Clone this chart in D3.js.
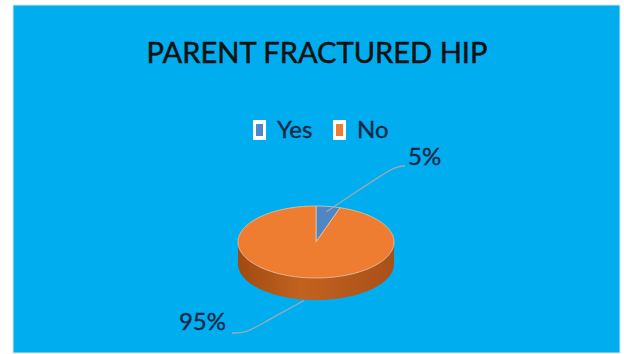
<!DOCTYPE html>
<html>
<head>
<meta charset="utf-8">
<script src="https://cdn.jsdelivr.net/npm/d3@7"></script>
<style>
  body { margin: 0; background: #fff; }
  svg { display: block; }
</style>
</head>
<body>
<svg id="chart"></svg>
<script>
const categories = ["Yes", "No"]
const values = [5, 95]
const labels = ["5%", "95%"]
const title = "PARENT FRACTURED HIP"

const width = 624, height = 354
const font = "Lato, 'Open Sans', sans-serif"

const topColor = d3.scaleOrdinal().domain(categories).range(["#4f86c6", "#ee7d32"])
const sideColor = d3.scaleOrdinal().domain(categories).range(["#3a679c", "#b95b1d"])

const svg = d3.select("#chart")
  .attr("width", width)
  .attr("height", height)

// frame
svg.append("rect")
  .attr("x", 13).attr("y", 5)
  .attr("width", 607).attr("height", 348)
  .attr("fill", "#00aeef")
  .attr("stroke", "#d8e8ee")
  .attr("stroke-width", 1)

svg.append("text")
  .attr("x", 317).attr("y", 63)
  .attr("text-anchor", "middle")
  .attr("font-family", font)
  .attr("font-size", 28)
  .attr("textLength", 341)
  .attr("lengthAdjust", "spacingAndGlyphs")
  .attr("fill", "#111")
  .attr("stroke", "#111")
  .attr("stroke-width", 0.5)
  .text(title)

// legend
const legendX = d3.scaleOrdinal().domain(categories).range([253, 333])
const legend = svg.append("g").selectAll("g")
  .data(categories)
  .enter().append("g")
  .attr("transform", d => `translate(${legendX(d)},120)`)

legend.append("rect")
  .attr("width", 13).attr("height", 20)
  .attr("fill", "#fff")
legend.append("rect")
  .attr("x", 3).attr("y", 4)
  .attr("width", 7).attr("height", 12)
  .attr("fill", d => topColor(d))
legend.append("text")
  .attr("x", 24).attr("y", 18)
  .attr("font-family", font)
  .attr("font-size", 24)
  .attr("fill", "#10294a")
  .attr("stroke", "#10294a")
  .attr("stroke-width", 0.4)
  .text(d => d)

// 3d pie
const cx = 316, cy = 242, rx = 78, ry = 36, depth = 22

const pie = d3.pie().sort(null).value(d => d.value)
const arcs = pie(categories.map((c, i) => ({ name: c, value: values[i], label: labels[i] })))

const px = (a, k = 1) => cx + rx * k * Math.sin(a)
const py = (a, k = 1) => cy - ry * k * Math.cos(a)

function arcPoints(a0, a1, dy) {
  const n = Math.max(2, Math.ceil((a1 - a0) / 0.02))
  return d3.range(n + 1).map(i => {
    const a = a0 + (a1 - a0) * i / n
    return [px(a), py(a) + dy]
  })
}

function topPath(d) {
  const pts = arcPoints(d.startAngle, d.endAngle, 0)
  return "M" + cx + "," + cy + "L" + pts.map(p => p.join(",")).join("L") + "Z"
}

function sidePath(d) {
  const a0 = Math.max(d.startAngle, Math.PI / 2)
  const a1 = Math.min(d.endAngle, Math.PI * 1.5)
  if (a1 <= a0) return null
  const upper = arcPoints(a0, a1, 0)
  const lower = arcPoints(a0, a1, depth).reverse()
  return "M" + upper.concat(lower).map(p => p.join(",")).join("L") + "Z"
}

const grad = svg.append("defs").append("linearGradient")
  .attr("id", "side").attr("x1", 0).attr("x2", 1)
grad.append("stop").attr("offset", "0%").attr("stop-color", "#a04a12")
grad.append("stop").attr("offset", "40%").attr("stop-color", "#c2621f")
grad.append("stop").attr("offset", "100%").attr("stop-color", "#a9501a")

const pieG = svg.append("g")

pieG.selectAll("path.side")
  .data(arcs.filter(d => sidePath(d)))
  .enter().append("path")
  .attr("class", "side")
  .attr("d", sidePath)
  .attr("fill", d => d.data.name === "No" ? "url(#side)" : sideColor(d.data.name))

pieG.selectAll("path.top")
  .data(arcs)
  .enter().append("path")
  .attr("class", "top")
  .attr("d", topPath)
  .attr("fill", d => topColor(d.data.name))
  .attr("stroke", "#f5c39c")
  .attr("stroke-width", 0.8)

// leader lines + labels
const labelPos = { Yes: [408, 165, "start"], No: [226, 330, "end"] }

const leader = d3.line().curve(d3.curveBasis)

arcs.forEach(d => {
  const mid = (d.startAngle + d.endAngle) / 2
  const [lx, ly, anchor] = labelPos[d.data.name]
  let pts
  if (d.data.name === "Yes") {
    const s = [px(mid, 0.85), py(mid, 0.85)]
    pts = [s, [s[0] + 45, s[1] - 30], [lx - 12, ly + 1], [lx - 3, ly + 1]]
  } else {
    const s = [px(mid), py(mid) + depth + 1]
    pts = [s, [s[0] - 40, s[1] + 22], [lx + 20, ly + 3], [lx + 6, ly + 3]]
  }
  svg.append("path")
    .attr("d", leader(pts))
    .attr("fill", "none")
    .attr("stroke", "#9aa9b3")
    .attr("stroke-width", 1.3)

  svg.append("text")
    .attr("x", lx).attr("y", ly)
    .attr("text-anchor", anchor)
    .attr("font-family", font)
    .attr("font-size", 24)
    .attr("fill", "#10294a")
    .attr("stroke", "#10294a")
    .attr("stroke-width", 0.4)
    .text(d.data.label)
})
</script>
</body>
</html>
